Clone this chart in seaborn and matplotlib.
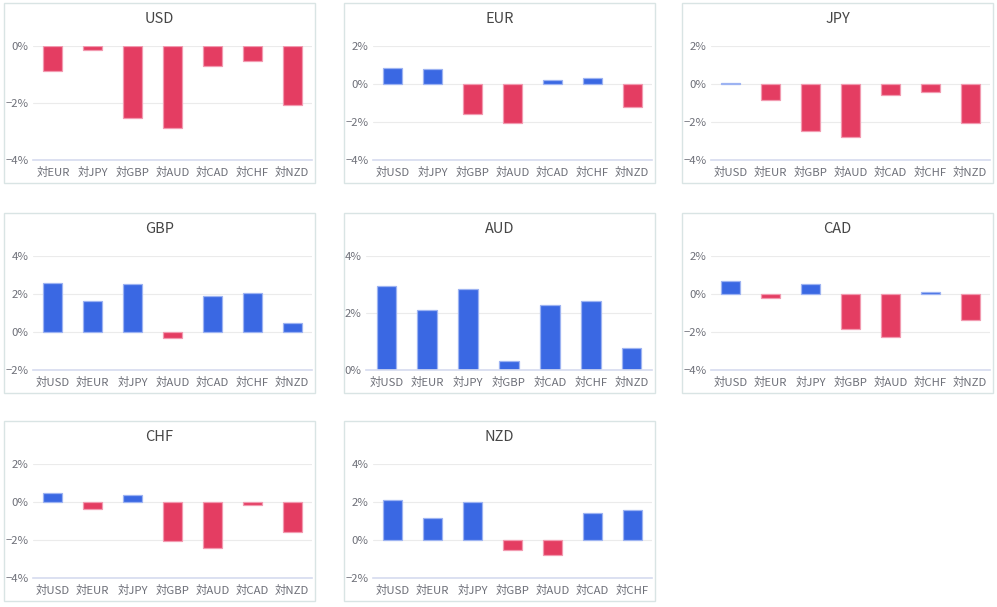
"""Variacion de cada divisa frente a las demas (8 paneles de barras)."""

import numpy as np
import pandas as pd
import matplotlib
matplotlib.use("Agg")
import matplotlib.pyplot as plt
import seaborn as sns
from matplotlib.patches import Rectangle
from matplotlib.ticker import FuncFormatter

# datos (en %)
divisas = ["USD", "EUR", "JPY", "GBP", "AUD", "CAD", "CHF", "NZD"]

usd = [-0.87, -0.14, -2.51, -2.88, -0.70, -0.53, -2.08]
eur = [0.84, 0.79, -1.60, -2.07, 0.19, 0.33, -1.19]
jpy = [0.05, -0.84, -2.46, -2.77, -0.58, -0.42, -2.04]
gbp = [2.56, 1.61, 2.51, -0.33, 1.89, 2.04, 0.47]
aud = [2.95, 2.10, 2.84, 0.31, 2.29, 2.42, 0.77]
cad = [0.68, -0.23, 0.54, -1.86, -2.25, 0.12, -1.39]
chf = [0.47, -0.37, 0.37, -2.04, -2.42, -0.14, -1.56]
nzd = [2.11, 1.16, 2.00, -0.51, -0.79, 1.44, 1.58]

valores = [usd, eur, jpy, gbp, aud, cad, chf, nzd]
limites = [(-4, 0), (-4, 2), (-4, 2), (-2, 4), (0, 4), (-4, 2), (-4, 2), (-2, 4)]

AZUL = "#3a68e3"
ROJO = "#e43d62"
BORDE_AZUL = "#9db3f2"
BORDE_ROJO = "#f29ab0"

sns.set_theme(style="white")
plt.rcParams["font.family"] = ["Noto Sans CJK JP", "DejaVu Sans"]

W, H = 997, 607
fig = plt.figure(figsize=(W / 100, H / 100), dpi=100)

col_x = [4, 344, 682]
fila_y = [3, 213, 421]
ancho, alto = 311, 180


def pct(v, pos):
    return f"{v:.0f}%".replace("-", "\u2212")


for i, (nombre, vals, (ymin, ymax)) in enumerate(zip(divisas, valores, limites)):
    fila, col = divmod(i, 3)
    px, py = col_x[col], fila_y[fila]

    # marco del panel
    fig.patches.append(Rectangle((px / W, 1 - (py + alto) / H), ancho / W, alto / H,
                                 transform=fig.transFigure, fill=False,
                                 edgecolor="#d9e4e4", linewidth=1.0))
    fig.text((px + ancho / 2) / W, 1 - (py + 16) / H, nombre, ha="center", va="center",
             fontsize=10.5, color="#464646")

    izq = 22 if ymin >= 0 else 29
    ax = fig.add_axes([(px + izq) / W, 1 - (py + alto - 23) / H,
                       (ancho - izq - 3) / W, (alto - 23 - 43) / H])

    otras = [d for d in divisas if d != nombre]
    df = pd.DataFrame({
        "par": ["対" + d for d in otras],
        "valor": vals,
        "signo": ["pos" if v >= 0 else "neg" for v in vals],
    })
    sns.barplot(data=df, x="par", y="valor", hue="signo", dodge=False, legend=False,
                palette={"pos": AZUL, "neg": ROJO}, width=0.48, ax=ax,
                linewidth=0.9, saturation=1)
    for barra in ax.patches:
        h = barra.get_height()
        if np.isnan(h):
            continue
        barra.set_edgecolor(BORDE_AZUL if h >= 0 else BORDE_ROJO)

    ax.set_ylim(ymin, ymax)
    ax.set_yticks(np.arange(ymin, ymax + 0.1, 2))
    ax.yaxis.set_major_formatter(FuncFormatter(pct))
    ax.yaxis.grid(True, color="#ebebeb", linewidth=0.8)
    ax.set_axisbelow(True)
    ax.set_xlabel("")
    ax.set_ylabel("")
    for lado in ["top", "right", "left"]:
        ax.spines[lado].set_visible(False)
    ax.spines["bottom"].set_color("#d6dbef")
    ax.spines["bottom"].set_linewidth(1.2)
    ax.tick_params(axis="both", length=0, labelsize=8.2, colors="#6e7079")
    ax.tick_params(axis="x", pad=5)
    ax.tick_params(axis="y", pad=3)

fig.savefig("out.png", dpi=100, facecolor="white")
